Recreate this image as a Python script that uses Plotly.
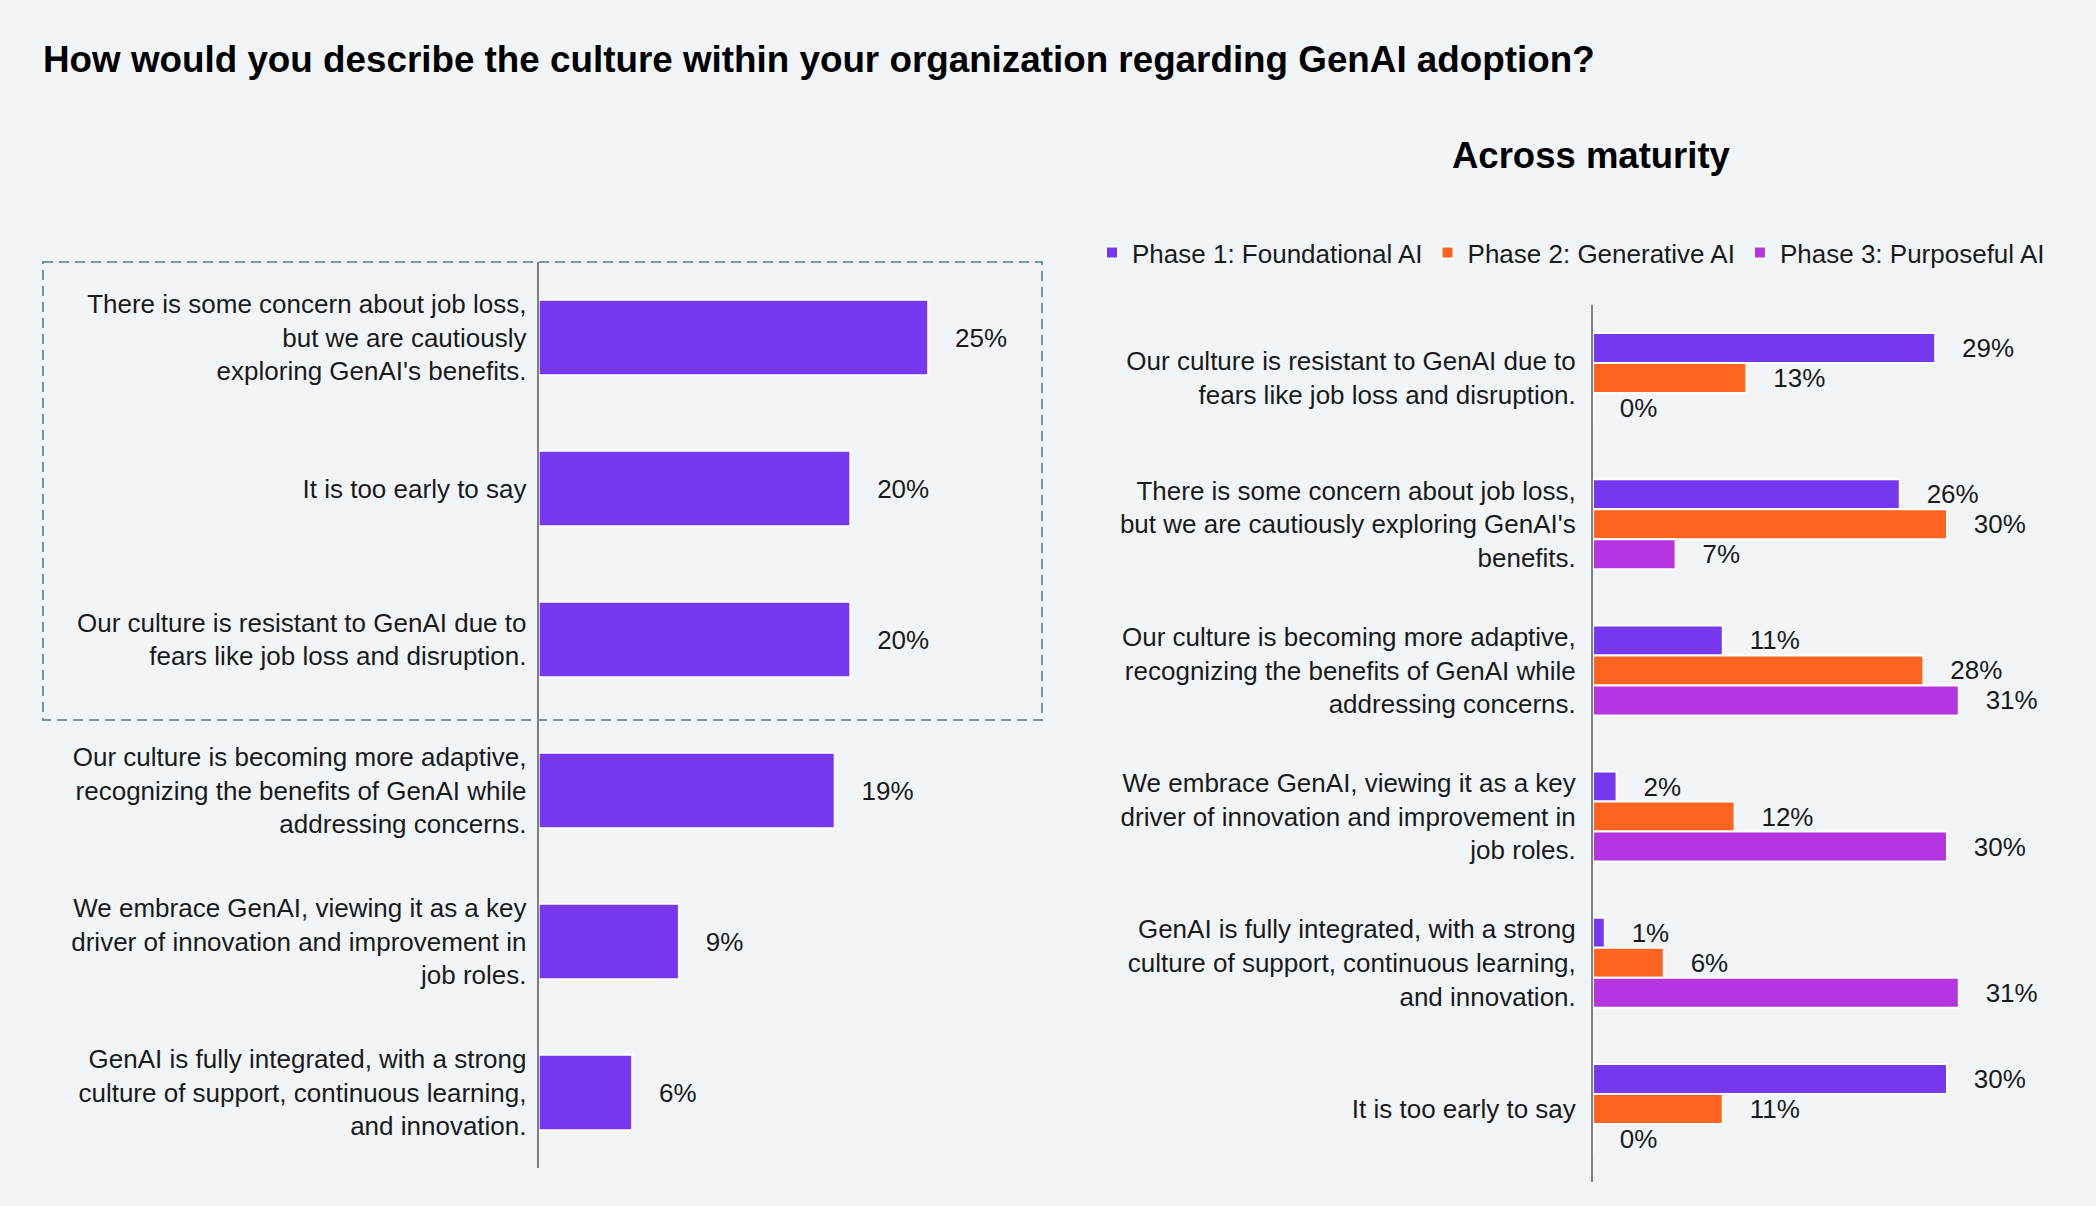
import plotly.graph_objects as go

# ---------------- data ----------------
overall_labels = [
    "There is some concern about job loss,<br>but we are cautiously<br>exploring GenAI's benefits.",
    "It is too early to say",
    "Our culture is resistant to GenAI due to<br>fears like job loss and disruption.",
    "Our culture is becoming more adaptive,<br>recognizing the benefits of GenAI while<br>addressing concerns.",
    "We embrace GenAI, viewing it as a key<br>driver of innovation and improvement in<br>job roles.",
    "GenAI is fully integrated, with a strong<br>culture of support, continuous learning,<br>and innovation.",
]
overall_values = [25, 20, 20, 19, 9, 6]

maturity_labels = [
    "Our culture is resistant to GenAI due to<br>fears like job loss and disruption.",
    "There is some concern about job loss,<br>but we are cautiously exploring GenAI's<br>benefits.",
    "Our culture is becoming more adaptive,<br>recognizing the benefits of GenAI while<br>addressing concerns.",
    "We embrace GenAI, viewing it as a key<br>driver of innovation and improvement in<br>job roles.",
    "GenAI is fully integrated, with a strong<br>culture of support, continuous learning,<br>and innovation.",
    "It is too early to say",
]
phase_names = ["Phase 1: Foundational AI", "Phase 2: Generative AI", "Phase 3: Purposeful AI"]
phase1_values = [29, 26, 11, 2, 1, 30]
phase2_values = [13, 30, 28, 12, 6, 11]
phase3_values = [0, 7, 31, 30, 31, 0]

title_text = "How would you describe the culture within your organization regarding GenAI adoption?"
subtitle_text = "Across maturity"

# ---------------- style ----------------
W, H = 2096, 1206
BG = "#F2F5F8"
PURPLE = "#7739F0"
ORANGE = "#FF6421"
MAGENTA = "#B535E0"
TEXT = "#1A1A1A"
FONT = "Arial, 'Liberation Sans', Helvetica, sans-serif"
FS = 26
PAD = "\u00a0\u00a0\u00a0\u200a"


def px_x(p):
    return p / W


def px_y(p):
    return 1 - p / H


# left panel geometry
L_AXIS_X, L_RIGHT = 538.7, 1040.0
L_PX_PER = 15.58
L_TOP, L_BOT = 262.0, 1168.0
# right panel geometry
R_AXIS_X, R_RIGHT = 1593.0, 2090.0
R_PX_PER = 11.8
R_TOP, R_BOT = 305.0, 1182.0

fig = go.Figure()

fig.add_trace(go.Bar(
    y=overall_labels, x=overall_values, orientation="h",
    width=0.5,
    marker=dict(color=PURPLE, line=dict(color="white", width=2)),
    texttemplate=PAD + "%{x}%", textposition="outside", constraintext="none",
    cliponaxis=False, textfont=dict(size=FS, color=TEXT, family=FONT),
    showlegend=False, hoverinfo="skip",
    xaxis="x", yaxis="y",
))

for name, vals, col in zip(phase_names, [phase1_values, phase2_values, phase3_values],
                           [PURPLE, ORANGE, MAGENTA]):
    fig.add_trace(go.Bar(
        y=maturity_labels, x=vals, orientation="h", name=name,
        marker=dict(color=col, line=dict(color="white", width=2)),
        texttemplate=PAD + "%{x}%", textposition="outside", constraintext="none",
        cliponaxis=False, textfont=dict(size=FS, color=TEXT, family=FONT),
        hoverinfo="skip",
        xaxis="x2", yaxis="y2",
    ))

axis_common_y = dict(
    type="category", showline=True, linecolor="#808080", linewidth=2,
    ticks="", showgrid=False, zeroline=False,
    tickfont=dict(size=FS, color=TEXT, family=FONT), fixedrange=True,
)

fig.update_layout(
    width=W, height=H,
    margin=dict(l=0, r=0, t=0, b=0),
    paper_bgcolor=BG, plot_bgcolor=BG,
    font=dict(family=FONT, size=FS, color=TEXT),
    barmode="group", bargap=0.384, bargroupgap=0,
    xaxis=dict(domain=[px_x(L_AXIS_X), px_x(L_RIGHT)],
               range=[0, (L_RIGHT - L_AXIS_X) / L_PX_PER],
               visible=False, anchor="y"),
    yaxis=dict(domain=[px_y(L_BOT), px_y(L_TOP)],
               categoryorder="array", categoryarray=overall_labels,
               range=[5.5, -0.5], anchor="x", ticklabelstandoff=5, **axis_common_y),
    xaxis2=dict(domain=[px_x(R_AXIS_X), px_x(R_RIGHT)],
                range=[0, (R_RIGHT - R_AXIS_X) / R_PX_PER],
                visible=False, anchor="y2"),
    yaxis2=dict(domain=[px_y(R_BOT), px_y(R_TOP)],
                categoryorder="array", categoryarray=maturity_labels,
                range=[5.5, -0.5], anchor="x2", ticklabelstandoff=10, **axis_common_y),
    legend=dict(orientation="h", x=px_x(1092), y=px_y(229), xanchor="left", yanchor="top",
                font=dict(size=FS, color=TEXT, family=FONT), bgcolor="rgba(0,0,0,0)",
                traceorder="normal", itemclick=False, itemdoubleclick=False),
    annotations=[
        dict(text="<b>" + title_text + "</b>", xref="paper", yref="paper",
             x=px_x(41), y=px_y(59), xanchor="left", yanchor="middle", showarrow=False,
             font=dict(size=36.8, color="#000000", family=FONT)),
        dict(text="<b>" + subtitle_text + "</b>", xref="paper", yref="paper",
             x=px_x(1591), y=px_y(155), xanchor="center", yanchor="middle", showarrow=False,
             font=dict(size=36.5, color="#000000", family=FONT)),
    ],
    shapes=[
        dict(type="rect", xref="paper", yref="paper",
             x0=px_x(43), x1=px_x(1042), y0=px_y(262), y1=px_y(720),
             line=dict(color="#7B92AE", width=2, dash="10px,6px"), layer="below"),
    ],
)

fig.write_html("out.html", config={"displayModeBar": False})
